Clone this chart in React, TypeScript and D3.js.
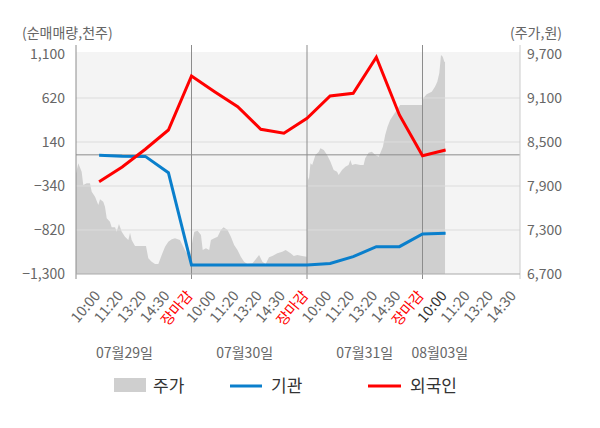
import * as d3 from 'd3'

// 거래일 / 시간대 라벨
const dayLabels = ['07월29일', '07월30일', '07월31일', '08월03일']
const dayLabelAt = [0.42, 1.46, 2.5, 3.15]
const slotLabels = ['10:00', '11:20', '13:20', '14:30', '장마감']
const slotsPerDay = [5, 5, 5, 4]
const xEnd = 3.844

// left axis (순매매량, 천주) / right axis (주가, 원)
const leftTicks = [1100, 620, 140, -340, -820, -1300]
const rightTicks = [9700, 9100, 8500, 7900, 7300, 6700]

// 외국인 / 기관 순매매량, one value per time slot
const foreign = [-293, -133, 61, 271, 860, 689, 525, 279, 235, 398, 642, 671, 1064, 435, -9, 53]
const institution = [-5, -15, -17, -195, -1202, -1202, -1202, -1202, -1202, -1202, -1185, -1111, -1002, -1002, -864, -856]

// 주가 (intraday, t in trading-day units)
const price: [number, number][] = [
  [0, 8070], [0.02, 8210], [0.049, 8095], [0.063, 7914], [0.093, 7937], [0.121, 7937],
  [0.136, 7822], [0.165, 7754], [0.193, 7641], [0.208, 7719], [0.236, 7686], [0.251, 7618],
  [0.266, 7460], [0.294, 7413], [0.309, 7337], [0.338, 7337], [0.352, 7277], [0.372, 7382],
  [0.396, 7277], [0.424, 7209], [0.453, 7164], [0.468, 7263], [0.482, 7164], [0.511, 7082],
  [0.606, 7082], [0.626, 6914], [0.655, 6868], [0.684, 6836], [0.713, 6836], [0.742, 6959],
  [0.771, 7072], [0.799, 7140], [0.829, 7173], [0.857, 7187], [0.9, 7164], [0.929, 7072],
  [0.958, 6982], [0.972, 7072], [0.987, 6959],
  [1.01, 7164], [1.024, 7277], [1.053, 7290], [1.082, 7232], [1.097, 7027], [1.125, 7050],
  [1.153, 7027], [1.168, 7164], [1.197, 7187], [1.226, 7209], [1.254, 7300], [1.278, 7337],
  [1.312, 7300], [1.341, 7209], [1.369, 7095], [1.398, 7027], [1.427, 6936], [1.455, 6868],
  [1.484, 6836], [1.528, 6846], [1.556, 6900], [1.585, 6959], [1.614, 6868], [1.642, 6836],
  [1.671, 6928], [1.7, 6945], [1.743, 6982], [1.786, 7004], [1.815, 7027], [1.858, 6982],
  [1.886, 6945], [1.915, 6959], [1.958, 6945], [1.998, 6936],
  [2.007, 8027], [2.016, 7982], [2.03, 8210], [2.045, 8186], [2.059, 8255], [2.073, 8323],
  [2.102, 8368], [2.116, 8414], [2.145, 8391], [2.174, 8323], [2.203, 8231], [2.231, 8118],
  [2.26, 8095], [2.274, 8050], [2.303, 8118], [2.332, 8163], [2.36, 8186], [2.375, 8255],
  [2.39, 8186], [2.418, 8200], [2.461, 8186], [2.49, 8186], [2.504, 8278], [2.533, 8354],
  [2.562, 8368], [2.591, 8323], [2.62, 8300], [2.634, 8346], [2.657, 8436], [2.677, 8595],
  [2.697, 8709], [2.72, 8800], [2.748, 8868], [2.778, 8936], [2.806, 9005], [2.996, 9005],
  [3.007, 9096], [3.036, 9150], [3.08, 9186], [3.108, 9254], [3.128, 9322], [3.145, 9437],
  [3.152, 9550], [3.16, 9686], [3.175, 9663], [3.189, 9595], [3.195, 9590],
]

const FONT = '"Noto Sans CJK KR", "Noto Sans", sans-serif'
const W = 600
const H = 428
const left = 76
const right = 520
const top = 54
const bottom = 274

export default function App() {
  const x = d3.scaleLinear().domain([0, xEnd]).range([left, right])
  const yL = d3.scaleLinear().domain([-1300, 1100]).range([bottom, top])
  const yR = d3.scaleLinear().domain([6700, 9700]).range([bottom, top])

  // slot positions: slot k of day d sits at d + (k+1)/5
  const slots: { t: number; label: string; day: number; k: number }[] = []
  slotsPerDay.forEach((n, d) => {
    for (let k = 0; k < n; k++) slots.push({ t: d + (k + 1) / 5, label: slotLabels[k], day: d, k })
  })

  const area = d3
    .area<[number, number]>()
    .x((d) => x(d[0]))
    .y0(bottom)
    .y1((d) => yR(d[1]))

  const line = d3
    .line<number>()
    .x((_, i) => x(slots[i].t))
    .y((d) => yL(d))

  const dayBounds = [1, 2, 3]

  return (
    <div style={{ position: 'absolute', left: 0, top: 0 }}>
      <svg width={W} height={H} style={{ display: 'block', background: '#fff' }} fontFamily={FONT}>
        <rect x={left} y={top - 2} width={right - left} height={bottom - top + 2} fill="#f4f4f4" />
        <path d={area(price) ?? ''} fill="#cfcfcf" />

        {/* grid */}
        {leftTicks.slice(1, -1).map((v) => (
          <line key={v} x1={left} x2={right} y1={yL(v)} y2={yL(v)} stroke="#dcdcdc" strokeWidth={1} />
        ))}
        <line x1={left} x2={right} y1={yL(0)} y2={yL(0)} stroke="#8c8c8c" strokeWidth={1} />
        {dayBounds.map((d) => (
          <line key={d} x1={x(d)} x2={x(d)} y1={45} y2={279} stroke="#8c8c8c" strokeWidth={1} />
        ))}
        <line x1={left} x2={left} y1={45} y2={279} stroke="#8c8c8c" strokeWidth={1} />
        <line x1={right} x2={right} y1={45} y2={279} stroke="#cccccc" strokeWidth={1} />
        <line x1={left} x2={right} y1={bottom} y2={bottom} stroke="#aaaaaa" strokeWidth={1} />

        {/* series */}
        <path d={line(institution) ?? ''} fill="none" stroke="#0a7fcc" strokeWidth={3} />
        <path d={line(foreign) ?? ''} fill="none" stroke="#ff0000" strokeWidth={3} />

        {/* left axis */}
        <text x={22} y={38} fontSize={14} fill="#666">(순매매량,천주)</text>
        {leftTicks.map((v) => (
          <text key={v} x={65} y={yL(v) + 5} fontSize={14} fill="#666" textAnchor="end">
            {d3.format(',')(v)}
          </text>
        ))}

        {/* right axis */}
        <text x={562} y={38} fontSize={14} fill="#666" textAnchor="end">(주가,원)</text>
        {rightTicks.map((v) => (
          <text key={v} x={527} y={yR(v) + 5} fontSize={14} fill="#666">
            {d3.format(',')(v)}
          </text>
        ))}

        {/* x labels */}
        {slots.map((s, i) => {
          const px = x(s.t) + 2
          const py = 296
          const color = s.k === 4 ? '#ff0000' : s.day === 3 && s.k === 0 ? '#333' : '#666'
          return (
            <text
              key={i}
              x={px}
              y={py}
              fontSize={14.5}
              fill={color}
              textAnchor="end"
              transform={`rotate(-50 ${px} ${py})`}
            >
              {s.label}
            </text>
          )
        })}
        {dayLabels.map((l, i) => (
          <text key={l} x={x(dayLabelAt[i])} y={358} fontSize={14} fill="#666" textAnchor="middle">
            {l}
          </text>
        ))}

        {/* legend */}
        <rect x={114} y={378} width={32} height={14} fill="#cfcfcf" />
        <text x={153} y={392} fontSize={17} fill="#333">주가</text>
        <line x1={230} x2={262} y1={386} y2={386} stroke="#0a7fcc" strokeWidth={3} />
        <text x={271} y={392} fontSize={17} fill="#333">기관</text>
        <line x1={368} x2={401} y1={386} y2={386} stroke="#ff0000" strokeWidth={3} />
        <text x={410} y={392} fontSize={17} fill="#333">외국인</text>
      </svg>
    </div>
  )
}
